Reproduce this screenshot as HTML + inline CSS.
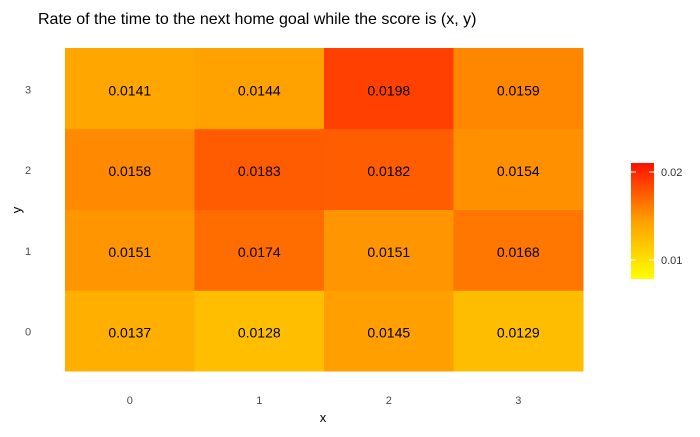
<!DOCTYPE html>
<html><head><meta charset="utf-8"><style>
body{margin:0;background:#fff;font-family:"Liberation Sans",sans-serif}
</style></head><body>
<svg id="c" width="700" height="432" xmlns="http://www.w3.org/2000/svg">
<text x="38" y="24" font-size="16" fill="#000">Rate of the time to the next home goal while the score is (x, y)</text>
<g id="cells"></g>
<text x="323" y="422" font-size="13" text-anchor="middle">x</text>
<text x="21" y="210" font-size="13" text-anchor="middle" transform="rotate(-90 21 210)">y</text>
<defs><linearGradient id="lg" x1="0" y1="1" x2="0" y2="0">
<stop offset="0" stop-color="#ffff00"/><stop offset="0.5" stop-color="#ffa000"/><stop offset="1" stop-color="#ff1000"/></linearGradient></defs>
<rect x="631" y="163" width="23" height="116" fill="url(#lg)"/>
<g id="leg"></g>
</svg>
<script>
const xCats=["0","1","2","3"];
const yCats=["0","1","2","3"];
const values=[
[0.0137,0.0128,0.0145,0.0129],
[0.0151,0.0174,0.0151,0.0168],
[0.0158,0.0183,0.0182,0.0154],
[0.0141,0.0144,0.0198,0.0159]];
const legendTicks=[0.01,0.02];
const NS="http://www.w3.org/2000/svg";
const x0=65,x1=583,yTop=48,yBot=371;
const cw=(x1-x0)/xCats.length,ch=(yBot-yTop)/yCats.length;
function xs(i){return x0+i*cw}
function ys(j){return yBot-(j+1)*ch}
function col(v){let g=Math.round(191-(v-0.0128)/0.007*127);g=Math.max(0,Math.min(255,g));return `rgb(255,${g},0)`}
function lv(v){return 260-(v-0.01)/0.01*88}
const cells=document.getElementById('cells');
values.forEach((row,j)=>row.forEach((v,i)=>{
 const r=document.createElementNS(NS,'rect');
 r.setAttribute('x',xs(i));r.setAttribute('y',ys(j));r.setAttribute('width',cw+0.5);r.setAttribute('height',ch+0.5);r.setAttribute('fill',col(v));
 
 
 cells.appendChild(r);
 const t=document.createElementNS(NS,'text');
 t.setAttribute('x',xs(i)+cw/2);t.setAttribute('y',ys(j)+ch/2+7);t.setAttribute('text-anchor','middle');t.setAttribute('font-size','14');
 t.textContent=v.toFixed(4);
 
 
 cells.appendChild(t);
}));
xCats.forEach((c,i)=>{const t=document.createElementNS(NS,'text');t.setAttribute('x',xs(i)+cw/2);t.setAttribute('y',404);t.setAttribute('text-anchor','middle');t.setAttribute('font-size','11');t.setAttribute('fill','#4d4d4d');t.textContent=c;
 
 
 cells.appendChild(t);});
yCats.forEach((c,j)=>{const t=document.createElementNS(NS,'text');t.setAttribute('x',28);t.setAttribute('y',ys(j)+ch/2+5);t.setAttribute('text-anchor','middle');t.setAttribute('font-size','11');t.setAttribute('fill','#4d4d4d');t.textContent=c;
 
 
 cells.appendChild(t);});
const leg=document.getElementById('leg');
legendTicks.forEach(v=>{const y=lv(v);
 [[631,636],[649,654]].forEach(p=>{const l=document.createElementNS(NS,'line');l.setAttribute('x1',p[0]);l.setAttribute('x2',p[1]);l.setAttribute('y1',y);l.setAttribute('y2',y);l.setAttribute('stroke','#fff');
 
 
 leg.appendChild(l);});
 const t=document.createElementNS(NS,'text');t.setAttribute('x',661);t.setAttribute('y',y+4);t.setAttribute('font-size','11');t.setAttribute('fill','#333');t.textContent=v.toFixed(2);
 
 
 leg.appendChild(t);});
</script>
</body></html>
